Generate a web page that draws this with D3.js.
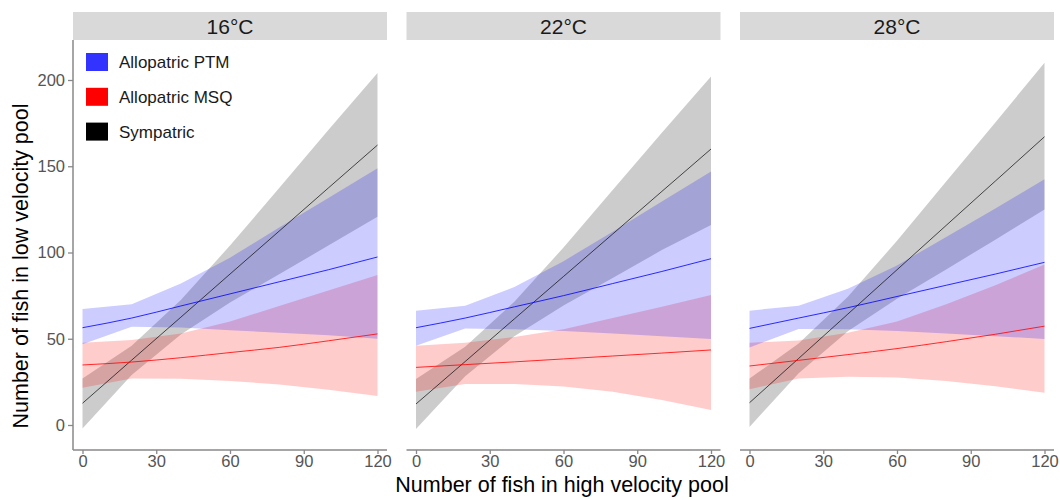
<!DOCTYPE html>
<html>
<head>
<meta charset="utf-8">
<script src="https://cdn.jsdelivr.net/npm/d3@7"></script>
<style>
  body { margin: 0; background: #fff; }
  text { font-family: "Liberation Sans", Arial, sans-serif; }
</style>
</head>
<body>
<div id="chart"></div>
<script>
var svgWidth = 1060;
var svgHeight = 500;

// facets and groups
var panels = ["16°C", "22°C", "28°C"];
var groups = ["Allopatric PTM", "Allopatric MSQ", "Sympatric"];
var groupColors = ["#0000ff", "#ff0000", "#000000"];
var legendColors = ["#3333ff", "#ff0000", "#000000"];

var xValues = [0, 20, 40, 60, 80, 100, 120];
var xTicks = [0, 30, 60, 90, 120];
var yTicks = [0, 50, 100, 150, 200];

// fitted values and confidence bands, one row per panel (16, 22, 28 °C)
var ptmFit = [
  [56.4, 62, 69, 76, 83, 90, 97.4],
  [56.4, 62, 68.5, 75, 82, 89, 96.4],
  [56, 62, 68, 74.5, 81, 87.5, 94.3]
];
var ptmHigh = [
  [67.2, 70, 82, 97, 114.5, 131.6, 148.8],
  [66.3, 69.2, 80, 95, 112, 129.5, 146.9],
  [66.3, 69.2, 79, 92.5, 109, 125.5, 142.5]
];
var ptmLow = [
  [46.8, 57, 56.5, 55, 53.5, 52, 50],
  [46, 56, 55.5, 54.5, 53, 51.5, 49.9],
  [45, 55.6, 55.5, 54.5, 53, 51.5, 49.9]
];
var msqFit = [
  [34.8, 36.5, 39, 42, 45, 48.8, 52.8],
  [33.4, 35, 36.6, 38.3, 40, 41.7, 43.5],
  [34.2, 37.5, 40.8, 44.3, 48.3, 52.6, 57.3]
];
var msqHigh = [
  [47.7, 49.3, 53, 60, 69, 78, 87],
  [46, 47.7, 51, 55.5, 62, 68.5, 75.4],
  [47.7, 49, 53.5, 60, 70, 81, 93]
];
var msqLow = [
  [21.6, 27, 26.8, 25.5, 23.5, 20.5, 16.8],
  [19.3, 23.8, 23.8, 22.3, 19.3, 14.5, 8.7],
  [20.7, 27, 28, 27.5, 25.5, 22.5, 18.7]
];
var symFit = [
  [12.6, 37.6, 62.5, 87.5, 112.4, 137.4, 162.3],
  [12.2, 36.8, 61.5, 86.1, 110.7, 135.4, 160],
  [12.9, 38.6, 64.3, 90, 115.7, 141.4, 167.1]
];
var symHigh = [
  [27, 46, 72.5, 104, 137.4, 171, 204],
  [26.7, 45.4, 71.5, 102.9, 136.2, 169.4, 202],
  [26.9, 47.2, 74.3, 106.8, 141.2, 175.4, 210]
];
var symLow = [
  [-2, 29, 52.5, 71, 87.4, 104, 120.7],
  [-2.3, 28.2, 51.5, 69.3, 85.2, 101.4, 116],
  [-1.1, 30, 54.3, 73.2, 90.2, 107.4, 125]
];

var fits = [ptmFit, msqFit, symFit];
var highs = [ptmHigh, msqHigh, symHigh];
var lows = [ptmLow, msqLow, symLow];

// layout
var panelLeft = [73, 406.5, 740];
var panelW = 314;
var stripTop = 12, stripH = 28;
var plotTop = 40, plotBottom = 450;
var axisColor = "#888";
var tickText = "#555";

var svg = d3.select("#chart")
  .append("svg")
  .attr("width", svgWidth)
  .attr("height", svgHeight);

var x = d3.scaleLinear().domain([0, 120]).range([9.5, 304.5]);
var y = d3.scaleLinear().domain([0, 200]).range([425, 80]);

var area = d3.area()
  .x(d => x(d.x))
  .y0(d => y(d.lo))
  .y1(d => y(d.hi));

var line = d3.line()
  .x(d => x(d.x))
  .y(d => y(d.v))
  .curve(d3.curveMonotoneX);

// draw order: sympatric, MSQ, PTM (PTM ribbon on top)
var drawOrder = [2, 1, 0];

panels.forEach(function(label, p) {
  var g = svg.append("g")
    .attr("transform", `translate(${panelLeft[p]}, 0)`);

  // strip
  g.append("rect")
    .attr("x", 0).attr("y", stripTop)
    .attr("width", panelW).attr("height", stripH)
    .attr("fill", "#d9d9d9");
  g.append("text")
    .attr("x", panelW / 2).attr("y", stripTop + stripH / 2)
    .attr("dy", "0.36em")
    .attr("text-anchor", "middle")
    .attr("font-size", "21px")
    .attr("fill", "#1a1a1a")
    .text(label);

  // ribbons
  drawOrder.forEach(function(k) {
    var band = xValues.map((xv, i) => ({ x: xv, lo: lows[k][p][i], hi: highs[k][p][i] }));
    g.append("path")
      .datum(band)
      .attr("d", area)
      .attr("fill", groupColors[k])
      .attr("fill-opacity", 0.2);
  });

  // fitted lines
  drawOrder.forEach(function(k) {
    var pts = xValues.map((xv, i) => ({ x: xv, v: fits[k][p][i] }));
    g.append("path")
      .datum(pts)
      .attr("d", line)
      .attr("fill", "none")
      .attr("stroke", groupColors[k])
      .attr("stroke-width", k == 2 ? 0.8 : 1)
      .attr("stroke-opacity", k == 2 ? 0.85 : 0.8);
  });

  // x axis
  var xAxis = g.append("g")
    .attr("transform", `translate(0, ${plotBottom})`)
    .call(d3.axisBottom(x).tickValues(xTicks).tickSizeOuter(0).tickSizeInner(4).tickPadding(1.5));
  xAxis.select(".domain").remove();
  xAxis.selectAll(".tick line").attr("stroke", axisColor).attr("stroke-width", 1.3);
  xAxis.selectAll(".tick text")
    .attr("fill", tickText)
    .attr("font-size", "16.5px")
    .style("font-family", "'Liberation Sans', Arial, sans-serif");
  g.append("line")
    .attr("x1", 0).attr("x2", panelW)
    .attr("y1", plotBottom).attr("y2", plotBottom)
    .attr("stroke", axisColor).attr("stroke-width", 1.5);

  // y axis only on the first panel
  if (p == 0) {
    var yAxis = g.append("g")
      .call(d3.axisLeft(y).tickValues(yTicks).tickSizeOuter(0).tickSizeInner(5).tickPadding(3));
    yAxis.select(".domain").remove();
    yAxis.selectAll(".tick line").attr("stroke", axisColor).attr("stroke-width", 1.3);
    yAxis.selectAll(".tick text")
      .attr("fill", tickText)
      .attr("font-size", "16.5px")
      .style("font-family", "'Liberation Sans', Arial, sans-serif");
    g.append("line")
      .attr("x1", 0).attr("x2", 0)
      .attr("y1", plotTop).attr("y2", plotBottom)
      .attr("stroke", axisColor).attr("stroke-width", 1.5);

    // legend
    var legend = g.selectAll(".legend")
      .data(groups)
      .enter()
      .append("g")
      .attr("class", "legend")
      .attr("transform", (d, i) => `translate(13, ${53 + i * 34.8})`);
    legend.append("rect")
      .attr("width", 22).attr("height", 18)
      .attr("fill", (d, i) => legendColors[i]);
    legend.append("text")
      .attr("x", 33).attr("y", 9)
      .attr("dy", "0.36em")
      .attr("font-size", "17px")
      .attr("fill", "#1a1a1a")
      .text(d => d);
  }
});

// axis titles
svg.append("text")
  .attr("x", 562).attr("y", 492)
  .attr("text-anchor", "middle")
  .attr("font-size", "21.5px")
  .attr("fill", "#000")
  .text("Number of fish in high velocity pool");

svg.append("text")
  .attr("transform", "translate(28, 266) rotate(-90)")
  .attr("text-anchor", "middle")
  .attr("font-size", "21.5px")
  .attr("fill", "#000")
  .text("Number of fish in low velocity pool");
</script>
</body>
</html>
